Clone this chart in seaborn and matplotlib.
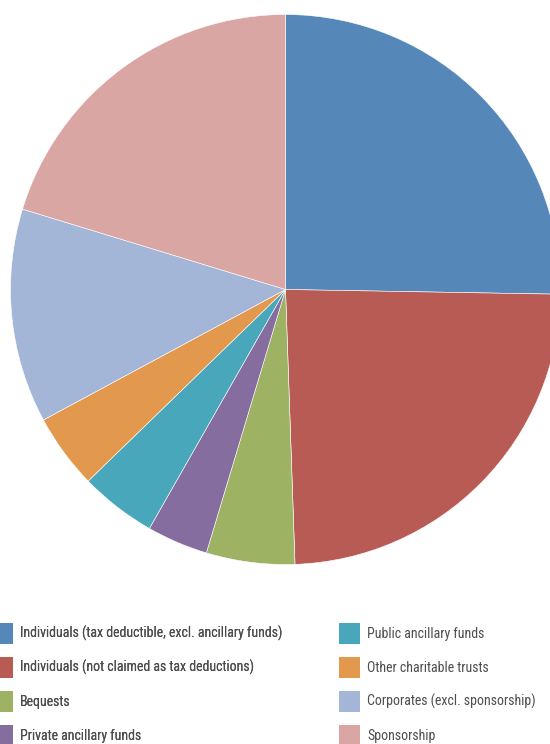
import matplotlib
matplotlib.use("Agg")
import matplotlib.pyplot as plt
from matplotlib import font_manager
from matplotlib.patches import Patch
import seaborn as sns

# Sources of giving, share of total (%)
categories = [
    "Individuals (tax deductible, excl. ancillary funds)",
    "Individuals (not claimed as tax deductions)",
    "Bequests",
    "Private ancillary funds",
    "Public ancillary funds",
    "Other charitable trusts",
    "Corporates (excl. sponsorship)",
    "Sponsorship",
]
shares = [25.3, 24.2, 5.2, 3.6, 4.5, 4.4, 12.6, 20.3]
colors = ["#5587b9", "#b95b55", "#9db262", "#866d9f",
          "#48a7bb", "#e3994d", "#a3b6d8", "#d9a6a3"]

sns.set_theme(style="white")

# Prefer a condensed face for the legend, falling back to a regular sans
installed = {f.name for f in font_manager.fontManager.ttflist}
preferred = ["Roboto Condensed", "Liberation Sans Narrow", "Open Sans Condensed",
             "Roboto", "Liberation Sans", "DejaVu Sans"]
family = next(n for n in preferred if n in installed)
plt.rcParams["font.family"] = [family, "DejaVu Sans"]

fig = plt.figure(figsize=(5.5, 7.44), dpi=100)
ax = fig.add_axes([10.5 / 550, (744 - 564.5) / 744, 550 / 550, 550 / 744])
ax.pie(shares, colors=colors, startangle=90, counterclock=False, radius=1,
       wedgeprops=dict(edgecolor="white", linewidth=0.4))
ax.set_xlim(-1, 1)
ax.set_ylim(-1, 1)
ax.set_aspect("equal")
ax.axis("off")

# Size the legend text so the longest label spans about 262 px
renderer = fig.canvas.get_renderer()
probe = fig.text(0, 0, categories[0], fontsize=10)
w = probe.get_window_extent(renderer).width
probe.remove()
fs = min(10.7, 10 * 262 / w)
fs_px = fs * 100 / 72

# Legend swatches of 21 px, rows every 34 px
box_px = 21
row_px = 34
hh = (box_px / fs_px - 0.245) / 0.65
handles = [Patch(facecolor=c, edgecolor="none") for c in colors]
common = dict(frameon=False, loc="upper left", borderpad=0, borderaxespad=0,
              fontsize=fs, handlelength=box_px / fs_px, handleheight=hh,
              handletextpad=7 / fs_px, labelspacing=(row_px - box_px) / fs_px,
              labelcolor="#4d4d4d")
top = (744 - 623) / 744
leg1 = fig.legend(handles[:4], categories[:4],
                  bbox_to_anchor=(-8 / 550, top), **common)
fig.add_artist(leg1)
leg2 = fig.legend(handles[4:], categories[4:],
                  bbox_to_anchor=(339 / 550, top), **common)

fig.savefig("out.png", dpi=100)
